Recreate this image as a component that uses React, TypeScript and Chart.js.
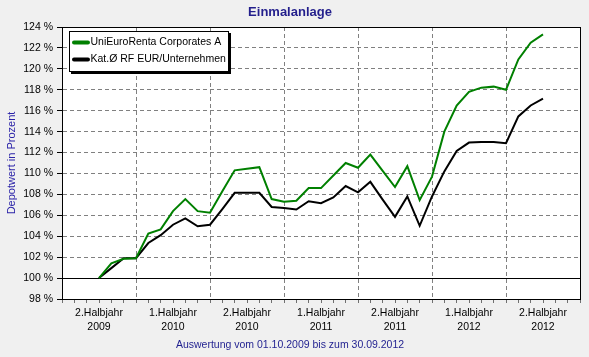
import React, { useEffect, useRef } from 'react';
import { Chart, registerables } from 'chart.js';

Chart.register(...registerables);

const FONT = "'Liberation Sans', Arial, sans-serif";

// Monthly observation dates (YYYY-MM), from 01.10.2009 to 30.09.2012
const pointMonths = [
  '2009-10', '2009-11', '2009-12', '2010-01', '2010-02', '2010-03', '2010-04', '2010-05', '2010-06',
  '2010-07', '2010-08', '2010-09', '2010-10', '2010-11', '2010-12', '2011-01', '2011-02', '2011-03',
  '2011-04', '2011-05', '2011-06', '2011-07', '2011-08', '2011-09', '2011-10', '2011-11', '2011-12',
  '2012-01', '2012-02', '2012-03', '2012-04', '2012-05', '2012-06', '2012-07', '2012-08', '2012-09',
  '2012-10',
];

const fundLabel = 'UniEuroRenta Corporates A';
const fundValues = [
  100, 101.4, 101.85, 101.9, 104.25, 104.65, 106.4, 107.55, 106.4,
  106.25, 108.3, 110.3, 110.45, 110.6, 107.55, 107.3, 107.4, 108.6,
  108.6, 109.8, 111.0, 110.55, 111.8, 110.25, 108.7, 110.7, 107.45,
  109.7, 114.0, 116.5, 117.8, 118.2, 118.3, 118.0, 120.9, 122.5,
  123.3,
];

const categoryLabel = 'Kat.Ø RF EUR/Unternehmen';
const categoryValues = [
  100, 100.95, 101.9, 101.9, 103.35, 104.1, 105.1, 105.7, 104.95,
  105.1, 106.6, 108.15, 108.15, 108.15, 106.8, 106.7, 106.55, 107.35,
  107.15, 107.7, 108.8, 108.2, 109.2, 107.5, 105.85, 107.8, 105.0,
  107.8, 110.2, 112.15, 112.95, 113.0, 113.0, 112.9, 115.45, 116.5,
  117.15,
];

// Axis: months counted from July 2009
const axisStart = { year: 2009, month: 7 };
const axisMonths = 42;
const halfYearLabels = ['2.Halbjahr', '1.Halbjahr', '2.Halbjahr', '1.Halbjahr', '2.Halbjahr', '1.Halbjahr', '2.Halbjahr'];
const halfYearYears = ['2009', '2010', '2010', '2011', '2011', '2012', '2012'];

const yMin = 98;
const yMax = 124;
const yStep = 2;

const titleText = 'Einmalanlage';
const yTitleText = 'Depotwert in Prozent';
const footerText = 'Auswertung vom 01.10.2009 bis zum 30.09.2012';

function monthIndex(s: string): number {
  const [y, m] = s.split('-').map(Number);
  return (y - axisStart.year) * 12 + (m - axisStart.month);
}

function toPoints(values: number[]) {
  return values.map((v, i) => ({ x: monthIndex(pointMonths[i]), y: v }));
}

const framePlugin = {
  id: 'frame',
  beforeDraw(chart: any) {
    const { ctx, chartArea } = chart;
    ctx.save();
    ctx.fillStyle = '#F0F0F0';
    ctx.fillRect(0, 0, chart.width, chart.height);
    ctx.fillStyle = '#FFFFFF';
    ctx.fillRect(chartArea.left, chartArea.top, chartArea.right - chartArea.left, chartArea.bottom - chartArea.top);
    ctx.restore();
  },
  beforeDatasetsDraw(chart: any) {
    const { ctx, chartArea, scales } = chart;
    ctx.save();
    ctx.strokeStyle = '#000';
    ctx.lineWidth = 1;
    ctx.setLineDash([]);
    const y100 = Math.round(scales.y.getPixelForValue(100)) + 0.5;
    ctx.beginPath();
    ctx.moveTo(chartArea.left, y100);
    ctx.lineTo(chartArea.right, y100);
    ctx.stroke();
    ctx.strokeRect(
      Math.round(chartArea.left) + 0.5,
      Math.round(chartArea.top) + 0.5,
      Math.round(chartArea.right - chartArea.left),
      Math.round(chartArea.bottom - chartArea.top)
    );
    ctx.restore();
  },
  afterDraw(chart: any) {
    const { ctx, chartArea } = chart;
    const x = Math.round(chartArea.left) + 7;
    const y = Math.round(chartArea.top) + 4;
    const w = 160;
    const h = 41;
    ctx.save();
    ctx.fillStyle = '#000';
    ctx.fillRect(x + 2, y + 2, w, h);
    ctx.fillStyle = '#FFF';
    ctx.fillRect(x, y, w, h);
    ctx.strokeStyle = '#000';
    ctx.lineWidth = 1;
    ctx.strokeRect(x + 0.5, y + 0.5, w - 1, h - 1);
    ctx.font = `10.5px ${FONT}`;
    ctx.textBaseline = 'middle';
    ctx.textAlign = 'left';
    chart.data.datasets.forEach((ds: any, i: number) => {
      const ly = y + 11.5 + i * 17;
      ctx.strokeStyle = ds.borderColor;
      ctx.lineWidth = 4;
      ctx.lineCap = 'round';
      ctx.beginPath();
      ctx.moveTo(x + 5, ly);
      ctx.lineTo(x + 19, ly);
      ctx.stroke();
      ctx.fillStyle = '#000';
      ctx.fillText(ds.label, x + 21.5, ly);
    });
    ctx.restore();
  },
};

export default function App() {
  const ref = useRef<HTMLCanvasElement | null>(null);

  useEffect(() => {
    if (!ref.current) return;
    const chart = new Chart(ref.current, {
      type: 'line',
      data: {
        datasets: [
          {
            label: fundLabel,
            data: toPoints(fundValues),
            borderColor: '#008000',
            borderWidth: 2,
            pointRadius: 0,
            tension: 0,
          },
          {
            label: categoryLabel,
            data: toPoints(categoryValues),
            borderColor: '#000000',
            borderWidth: 2,
            pointRadius: 0,
            tension: 0,
          },
        ],
      },
      options: {
        animation: false,
        responsive: false,
        devicePixelRatio: 1,
        events: [],
        layout: { padding: { left: 0, right: 9, top: 0, bottom: 0 } },
        plugins: {
          legend: { display: false },
          tooltip: { enabled: false },
          title: {
            display: true,
            text: titleText,
            color: '#231F8C',
            font: { family: FONT, size: 13, weight: 'bold', lineHeight: 1.2 },
            padding: { top: 5, bottom: 6.4 },
          },
          subtitle: {
            display: true,
            position: 'bottom',
            text: footerText,
            color: '#1F1F8F',
            font: { family: FONT, size: 10.5, lineHeight: 1.2 },
            padding: { top: 3.7, bottom: 5.7 },
          },
        },
        scales: {
          x: {
            type: 'linear',
            position: 'bottom',
            min: 0,
            max: axisMonths,
            afterFit: (s: any) => { s.height = 36; },
            ticks: {
              stepSize: 1,
              autoSkip: false,
              maxRotation: 0,
              minRotation: 0,
              color: '#000',
              padding: 3,
              font: { family: FONT, size: 10.5, lineHeight: 1.36 },
              callback: (v: any) => {
                const n = Number(v);
                if (n % 6 === 3) {
                  const k = (n - 3) / 6;
                  return [halfYearLabels[k], halfYearYears[k]];
                }
                return '';
              },
            },
            grid: {
              color: (c: any) => (c.tick && c.tick.value % 6 === 0 ? '#808080' : 'rgba(0,0,0,0)'),
              tickColor: '#707070',
              tickLength: 4,
              lineWidth: 1,
            },
            border: { display: true, color: '#000', dash: [4, 3] },
          },
          y: {
            type: 'linear',
            min: yMin,
            max: yMax,
            afterFit: (s: any) => { s.width = 62; },
            ticks: {
              stepSize: yStep,
              color: '#000',
              padding: 4,
              font: { family: FONT, size: 10.5 },
              callback: (v: any) => `${v} %`,
            },
            grid: {
              color: '#808080',
              tickColor: '#000',
              tickLength: 5,
              lineWidth: 1,
            },
            border: { display: true, color: '#000', dash: [4, 3] },
            title: {
              display: true,
              text: yTitleText,
              color: '#2B23A8',
              font: { family: FONT, size: 11 },
              padding: { top: 5, bottom: 0 },
            },
          },
        },
      },
      plugins: [framePlugin],
    } as any);
    return () => chart.destroy();
  }, []);

  return (
    <div style={{ position: 'fixed', left: 0, top: 0, width: 589, height: 357, background: '#F0F0F0' }}>
      <canvas ref={ref} width={589} height={357} style={{ display: 'block', width: 589, height: 357 }} />
    </div>
  );
}
